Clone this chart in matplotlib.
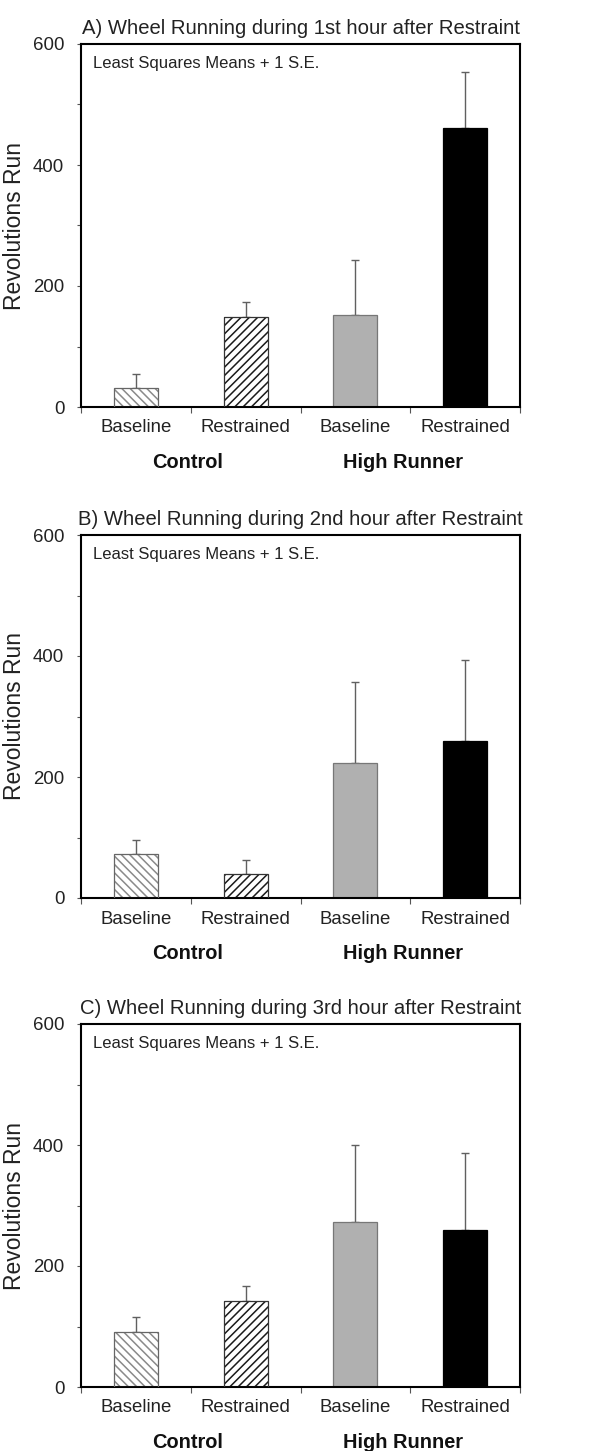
import matplotlib
matplotlib.use("Agg")
from matplotlib import pyplot as plt
from matplotlib.ticker import MultipleLocator, FixedLocator

plt.rcParams['font.family'] = ['Liberation Sans', 'DejaVu Sans']
plt.rcParams['hatch.linewidth'] = 1.1

# categories and group labels
categories = ["Baseline", "Restrained", "Baseline", "Restrained"]
groups = ["Control", "High Runner"]

# least squares means and +1 S.E. for each hour
titles = ["A) Wheel Running during 1st hour after Restraint",
          "B) Wheel Running during 2nd hour after Restraint",
          "C) Wheel Running during 3rd hour after Restraint"]
means_1st = [31, 149, 152, 461]
se_1st = [24, 24, 91, 92]
means_2nd = [73, 39, 223, 259]
se_2nd = [23, 24, 134, 134]
means_3rd = [91, 142, 272, 259]
se_3rd = [24, 25, 128, 128]

panels = [(means_1st, se_1st), (means_2nd, se_2nd), (means_3rd, se_3rd)]

# bar styles: face colour, hatch, hatch colour
faces = ['white', 'white', '#b0b0b0', 'black']
hatches = ['\\\\\\\\', '////', None, None]
hatch_colors = ['#8a8a8a', '#1a1a1a', '#b0b0b0', 'black']
edges = ['#666666', '#333333', '#777777', 'black']

W, H = 592, 1451
fig = plt.figure(figsize=(W / 100, H / 100), dpi=100)

tops = [44, 535, 1024]
left, right = 81, 520
height = 363

xs = list(range(len(categories)))

for k, (means, se) in enumerate(panels):
    top = tops[k]
    ax = fig.add_axes([left / W, 1 - (top + height) / H, (right - left) / W, height / H])

    for i in xs:
        if hatches[i]:
            ax.bar(i, means[i], width=0.4, color=faces[i], hatch=hatches[i],
                   edgecolor=hatch_colors[i], linewidth=0, zorder=2)
            ax.bar(i, means[i], width=0.4, fill=False, edgecolor=edges[i],
                   linewidth=0.9, zorder=3)
        else:
            ax.bar(i, means[i], width=0.4, color=faces[i], edgecolor=edges[i],
                   linewidth=0.9, zorder=2)
    ax.errorbar(xs, means, yerr=[[0] * len(se), se], fmt='none', ecolor='#606060',
                elinewidth=1.0, capsize=3, capthick=1.0, zorder=1)

    ax.set_xlim(-0.5, 3.5)
    ax.set_ylim(0, 600)
    ax.yaxis.set_major_locator(MultipleLocator(200))
    ax.yaxis.set_minor_locator(MultipleLocator(100))
    ax.set_xticks(xs)
    ax.set_xticklabels(categories, fontsize=13.4, color='#222222')
    ax.xaxis.set_minor_locator(FixedLocator([-0.5, 0.5, 1.5, 2.5, 3.5]))
    ax.tick_params(axis='x', which='major', length=0, pad=9)
    ax.tick_params(axis='x', which='minor', length=4, width=0.8, color='#555555', direction='out')
    ax.tick_params(axis='y', which='both', length=3, width=0.8, color='#555555', direction='out')
    ax.tick_params(axis='y', which='major', labelsize=13.4, labelcolor='#222222', pad=9)
    for s in ax.spines.values():
        s.set_linewidth(1.5)
        s.set_color('black')

    ax.set_ylabel("Revolutions Run", fontsize=16.5, color='#222222', labelpad=5)
    ax.set_title(titles[k], fontsize=14.6, color='#222222', pad=7)
    ax.text(0.027, 0.945, "Least Squares Means + 1 S.E.", transform=ax.transAxes,
            fontsize=12, color='#222222', va='center', ha='left')

    trans = ax.get_xaxis_transform()
    ax.text(0.47, -0.152, groups[0], transform=trans, ha='center', va='center',
            fontsize=14.4, fontweight='bold', color='#111111')
    ax.text(2.43, -0.152, groups[1], transform=trans, ha='center', va='center',
            fontsize=14.4, fontweight='bold', color='#111111')

fig.savefig("out.png", dpi=100)
